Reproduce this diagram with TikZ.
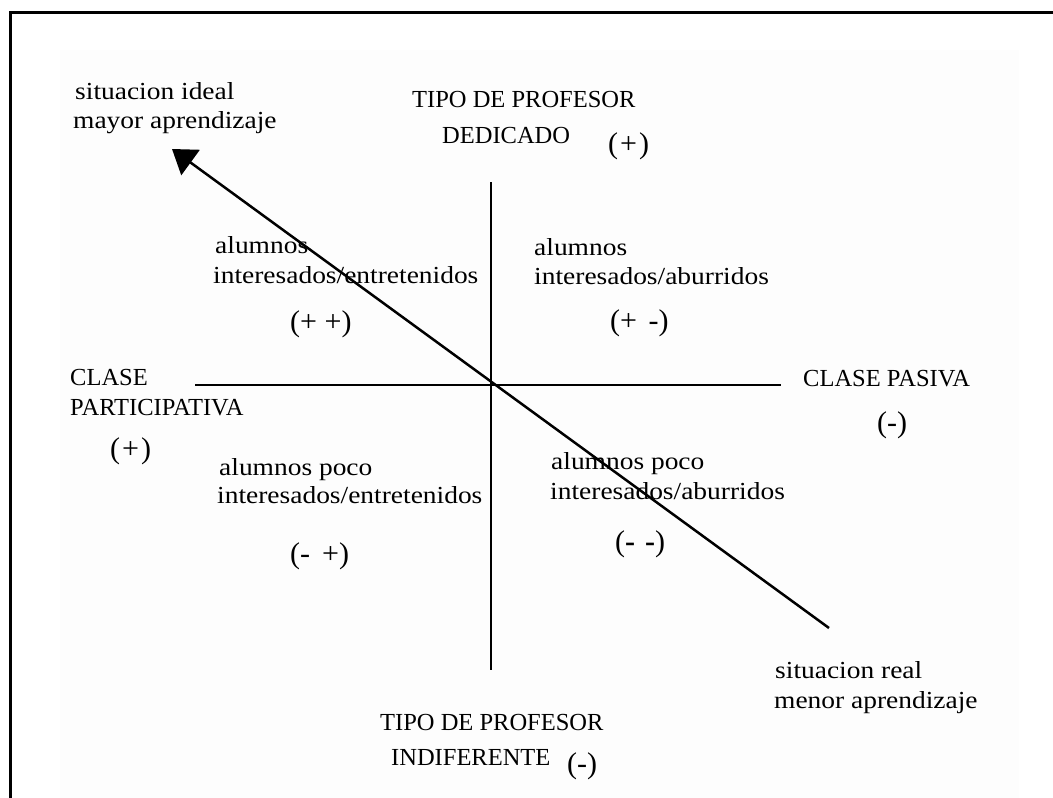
\documentclass[tikz,border=0pt]{standalone}
\usepackage{fontspec}
\setmainfont{Liberation Serif}
\newfontfamily\lowf[FakeStretch=1.12]{Liberation Serif}
\usetikzlibrary{arrows.meta}
\begin{document}
\begin{tikzpicture}[x=1pt,y=-1pt,
  lbl/.style={inner sep=0pt,anchor=base west,font=\lowf\fontsize{24.5}{29}\selectfont},
  caplbl/.style={inner sep=0pt,anchor=base west,font=\fontsize{24.5}{29}\selectfont},
  sgn/.style={inner sep=0pt,anchor=base west,font=\fontsize{30}{34}\selectfont},
  axis/.style={line width=2pt},
  frameline/.style={line width=3pt}]
\useasboundingbox (0,0) rectangle (1053,798);
\fill[black!0.6] (60,50) rectangle (1019,798);
\draw[frameline] (10,798) -- (10,12) -- (1053,12);
% axes
\coordinate (vtop) at (491,182);
\coordinate (vbot) at (491,670);
\coordinate (hleft) at (195,385);
\coordinate (hright) at (781,385);
\draw[axis] (vtop) -- (vbot);
\draw[axis] (hleft) -- (hright);
% arrow
\coordinate (ideal) at (172,149);
\coordinate (real) at (829,628);
\draw[line width=2.5pt,-{Triangle[length=23pt,width=31pt]}] (real) -- (ideal);
% labels
\node[lbl] (si1) at (75,99) {situacion ideal};
\node[lbl] (si2) at (73,128) {mayor aprendizaje};
\node[caplbl] (tp1) at (412,107) {TIPO DE PROFESOR};
\node[caplbl] (tp2) at (442,143) {DEDICADO};
\node[sgn] (tps) at (608,153) {(\kern2pt+\kern2pt)};
\node[lbl] (q1a) at (215,253) {alumnos};
\node[lbl] (q1b) at (213,283) {interesados/entretenidos};
\node[sgn] (q1s) at (290,331) {(+ +)};
\node[lbl] (q2a) at (534,255) {alumnos};
\node[lbl] (q2b) at (534,284) {interesados/aburridos};
\node[sgn] (q2s) at (610,330) {(+ \kern4pt-)};
\node[caplbl] (cp1) at (70,385) {CLASE};
\node[caplbl] (cp2) at (70,415) {PARTICIPATIVA};
\node[sgn] (cps) at (110,458) {(\kern2pt+\kern2pt)};
\node[caplbl] (cpa) at (803,386) {CLASE PASIVA};
\node[sgn] (cpas) at (877,432) {(-)};
\node[lbl] (q3a) at (219,475) {alumnos poco};
\node[lbl] (q3b) at (217,503) {interesados/entretenidos};
\node[sgn] (q3s) at (290,563) {(-\kern12pt+)};
\node[lbl] (q4a) at (551,469) {alumnos poco};
\node[lbl] (q4b) at (550,499) {interesados/aburridos};
\node[sgn] (q4s) at (615,551) {(\textbf{-}\kern10pt\textbf{-})};
\node[lbl] (sr1) at (775,678) {situacion real};
\node[lbl] (sr2) at (774,708) {menor aprendizaje};
\node[caplbl] (ti1) at (380,730) {TIPO DE PROFESOR};
\node[caplbl] (ti2) at (391,765) {INDIFERENTE};
\node[sgn] (tis) at (567,773) {(-)};
\end{tikzpicture}
\end{document}
